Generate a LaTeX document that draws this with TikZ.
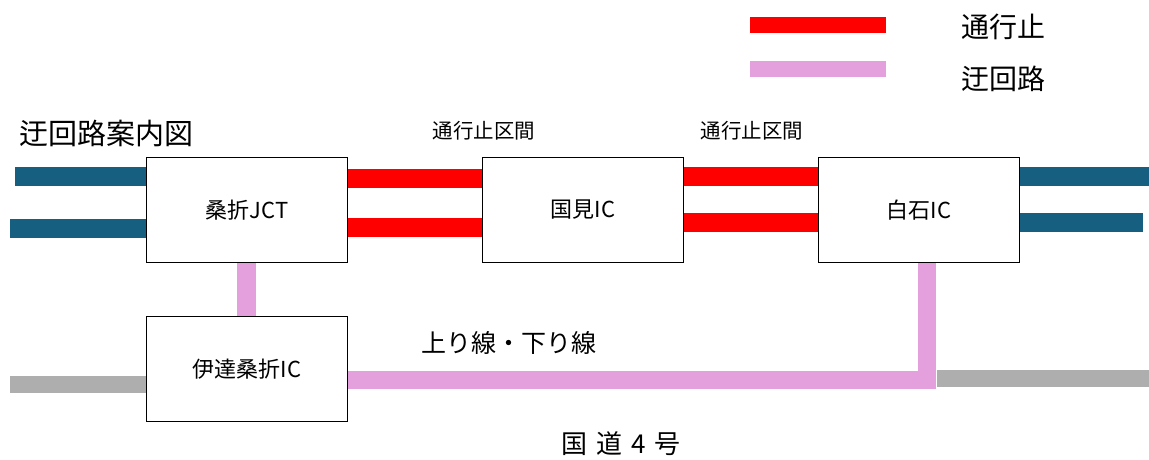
\documentclass[tikz,border=0pt]{standalone}
\usepackage{fontspec}
\setmainfont{Noto Sans CJK JP}
\definecolor{roadblue}{RGB}{23,95,128}
\definecolor{closedred}{RGB}{255,0,0}
\definecolor{detourpink}{RGB}{228,160,220}
\definecolor{roadgray}{RGB}{174,174,174}
\tikzset{
	icbox/.style={draw=black,line width=1.5pt,minimum width=201pt,minimum height=105pt,inner sep=0pt,font=\fontsize{22}{22}\selectfont},
	bluebar/.style={draw=roadblue,line width=19pt},
	redbar/.style={draw=closedred,line width=19pt},
	pinkbar/.style={draw=detourpink,line width=18pt},
	graybar/.style={draw=roadgray,line width=17pt}
}
\begin{document}
\begin{tikzpicture}[x=1pt,y=-1pt]
		\useasboundingbox (0,0) rectangle (1149,459);
		% legend
		\draw[redbar,line width=16pt] (750,25) -- (886,25);
		\node[anchor=west,font=\fontsize{28}{28}\selectfont] at (958,27) (legclosed) {通行止};
		\draw[pinkbar,line width=16pt] (750,69) -- (886,69);
		\node[anchor=west,font=\fontsize{28}{28}\selectfont] at (958,79) (legdetour) {迂回路};
		\node[anchor=west,font=\fontsize{29}{29}\selectfont] at (16,133) (title) {迂回路案内図};
		% interchanges
		\node[icbox] at (247,210) (jct) {桑折JCT};
		\node[icbox] at (583,210) (kunimi) {国見IC};
		\node[icbox] at (919,210) (shiroishi) {白石IC};
		\node[icbox] at (247,369) (date) {伊達桑折IC};
		\coordinate (blueLa) at (15,176);
		\coordinate (blueLb) at (10,228);
		\coordinate (blueRa) at (1149,176);
		\coordinate (blueRb) at (1143,222);
		\coordinate (grayL) at (10,384);
		\coordinate (grayR) at (1149,378);
		% closed sections
		\draw[redbar] ([yshift=32pt]jct.east) -- ([yshift=32pt]kunimi.west);
		\draw[redbar] ([yshift=-17pt]jct.east) -- ([yshift=-17pt]kunimi.west);
		\draw[redbar] ([yshift=34pt]kunimi.east) -- ([yshift=34pt]shiroishi.west);
		\draw[redbar] ([yshift=-12pt]kunimi.east) -- ([yshift=-12pt]shiroishi.west);
		\node[font=\fontsize{20.5}{20.5}\selectfont] at (484,131) (sec1) {通行止区間};
		\node[font=\fontsize{20.5}{20.5}\selectfont] at (752,131) (sec2) {通行止区間};
		% expressway
		\draw[bluebar] (blueLa) -- (blueLa -| jct.west);
		\draw[bluebar] (blueLb) -- (blueLb -| jct.west);
		\draw[bluebar] (shiroishi.east |- blueRa) -- (blueRa);
		\draw[bluebar] (shiroishi.east |- blueRb) -- (blueRb);
		% detour
		\draw[pinkbar,line width=19pt] ([xshift=-1pt]jct.south) -- ([xshift=-1pt]date.north);
		\draw[pinkbar,line join=miter] ([xshift=8pt]shiroishi.south) |- ([yshift=-11pt]date.east);
		\node[anchor=west,font=\fontsize{25}{25}\selectfont] at (418,343) (route) {上り線・下り線};
		% route 4
		\draw[graybar] (grayL) -- (grayL -| date.west);
		\draw[graybar] ([xshift=18pt]shiroishi.south |- grayR) -- (grayR);
		\node[font=\fontsize{26}{26}\selectfont] at (621,444) (r4) {国\hspace{9pt}道\hspace{9pt}4\hspace{9pt}号};
	\end{tikzpicture}
\end{document}
